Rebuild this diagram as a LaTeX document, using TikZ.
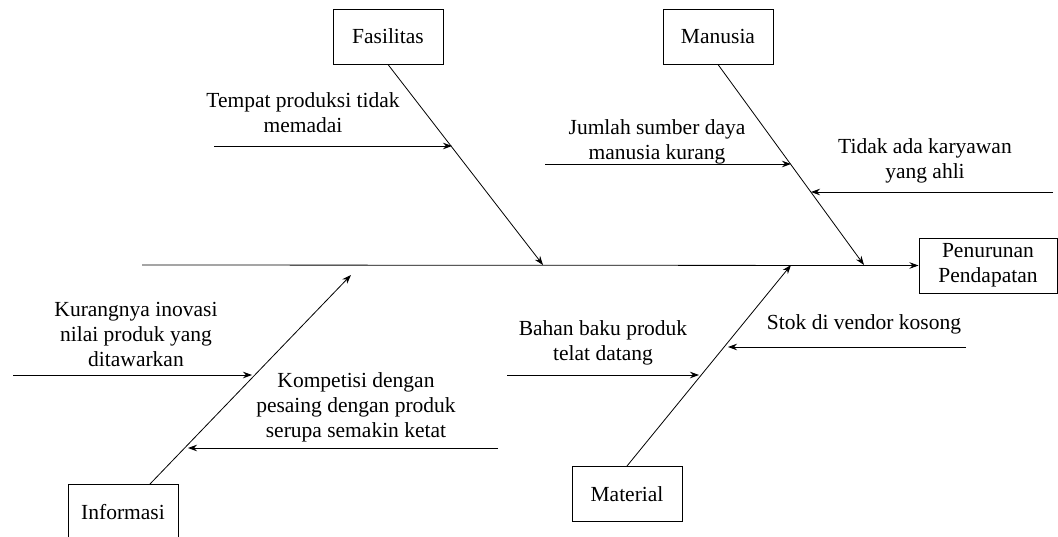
\documentclass[tikz,border=0pt]{standalone}
\usepackage{fontspec}
\setmainfont{Liberation Serif}
\usetikzlibrary{positioning}
\usetikzlibrary{arrows.meta}

\begin{document}
\begin{tikzpicture}[x=1pt,y=-1pt,
        every node/.style={font=\fontsize{21.5}{25}\selectfont},
        box/.style={draw,line width=1pt,minimum width=110pt,minimum height=55pt,inner sep=0pt},
        lbl/.style={align=center,inner sep=0pt},
        bone/.style={line width=0.8pt,-{Stealth[length=9pt,width=6.5pt]}}]
            \useasboundingbox (0,0) rectangle (1058,536);

            % head and spine
            \node(ef) [box,minimum width=138pt,align=center] at (988,265.5) {Penurunan\\Pendapatan};
            \coordinate (tail) at (142,265);
            \draw[bone] (tail) -- (ef.west);

            % main bones
            \node(fs) [box] at (388,36.5) {Fasilitas};
            \node(mn) [box] at (718,36.5) {Manusia};
            \node(inf) [box] at (123,512) {Informasi};
            \node(mt) [box] at (627,494) {Material};
            \coordinate (b1) at (543,265);
            \coordinate (b2) at (864,265);
            \coordinate (b3) at (351,275);
            \coordinate (b4) at (791,265);
            \draw[bone] (fs.south) -- (b1);
            \draw[bone] (mn.south) -- (b2);
            \draw[bone] ([xshift=27pt] inf.north) -- (b3);
            \draw[bone] (mt.north) -- (b4);

            % causes
            \node(t1) [lbl] at (303,113) {Tempat produksi tidak\\memadai};
            \node(t2) [lbl] at (657,142) {Jumlah sumber daya\\manusia kurang};
            \node(t3) [lbl] at (925,161) {Tidak ada karyawan\\yang ahli};
            \node(t4) [lbl] at (136,334) {Kurangnya inovasi\\nilai produk yang\\ditawarkan};
            \node(t5) [lbl] at (356,407) {Kompetisi dengan\\pesaing dengan produk\\serupa semakin ketat};
            \node(t6) [lbl] at (603,343) {Bahan baku produk\\telat datang};
            \node(t7) [lbl] at (864,324) {Stok di vendor kosong};

            \coordinate (s1) at (214,146);  \coordinate (h1) at (452,146);
            \coordinate (s2) at (545,164);  \coordinate (h2) at (791,164);
            \coordinate (s3) at (1053,192); \coordinate (h3) at (811,192);
            \coordinate (s4) at (13,375);   \coordinate (h4) at (252,375);
            \coordinate (s5) at (498,448);  \coordinate (h5) at (188,448);
            \coordinate (s6) at (507,375);  \coordinate (h6) at (699,375);
            \coordinate (s7) at (966,347);  \coordinate (h7) at (728,347);
            \foreach \i in {1,...,7}
                \draw[bone] (s\i) -- (h\i);
        \end{tikzpicture}
\end{document}
